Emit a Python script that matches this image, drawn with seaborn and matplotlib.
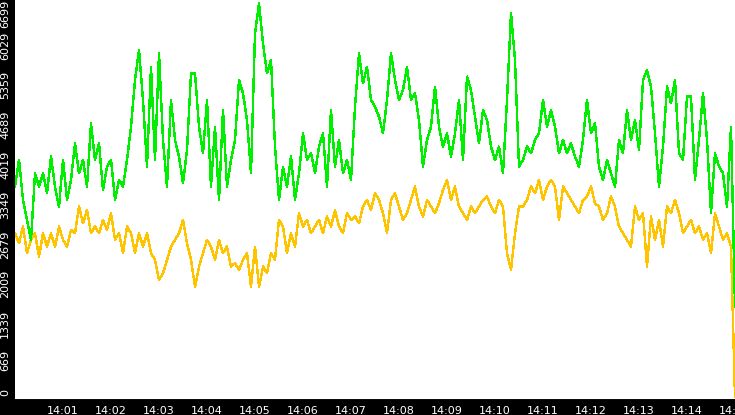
import pandas as pd
import matplotlib
matplotlib.use("Agg")
import matplotlib.pyplot as plt
import matplotlib.dates as mdates
import matplotlib.transforms as mtransforms
import seaborn as sns

# one sample every 5 seconds, 14:00:00 .. 14:15:00
green_vals = [
    3556, 4005, 3331, 2994, 2658, 3780, 3556, 3780, 3443, 4061, 3556, 3219, 4005, 3331, 3668,
    4285, 3780, 4005, 3556, 4622, 4005, 4285, 3500, 3892, 4005, 3331, 3668, 3556, 4005, 4566,
    5352, 5857, 5015, 3892, 5576, 4005, 5801, 4342, 3556, 5015, 4342, 4061, 3612, 4173, 5464,
    5464, 4566, 4117, 5015, 3556, 4566, 3331, 4847, 3556, 4005, 4342, 5352, 5127, 4678, 3780,
    6138, 6643, 5969, 5464, 5689, 4229, 3331, 3892, 3556, 4061, 3331, 3780, 4454, 4005, 4117,
    3780, 4229, 4454, 3556, 4847, 3892, 4342, 3780, 4005, 3668, 4903, 5801, 5296, 5576, 5015,
    4903, 4734, 4454, 5015, 5801, 5352, 5015, 5183, 5576, 5015, 5127, 4678, 3892, 4342, 4566,
    5240, 4566, 4229, 4454, 4061, 4454, 5015, 4005, 5408, 5183, 4734, 4285, 4847, 4678, 4229,
    4005, 4229, 3780, 5015, 6474, 5689, 3892, 4005, 4229, 4117, 4342, 4454, 5015, 4566, 4847,
    4566, 4117, 4342, 4117, 4285, 4061, 3892, 4342, 5015, 4454, 4622, 3892, 3668, 4005, 3780,
    3556, 4342, 4117, 4847, 4342, 4678, 4173, 5352, 5520, 5240, 4454, 3556, 4229, 5240, 4959,
    5352, 4117, 4005, 5071, 5071, 3668, 4342, 5127, 4342, 3107, 4117, 3892, 3780, 3219, 4566,
    1529,
]
yellow_vals = [
    2770, 2602, 2882, 2433, 2658, 2770, 2377, 2770, 2545, 2770, 2545, 2882, 2658, 2545, 2826,
    2770, 3219, 2938, 3163, 2770, 2882, 2770, 2994, 2826, 3107, 2658, 2770, 2433, 2882, 2770,
    2433, 2770, 2545, 2770, 2433, 2321, 1984, 2096, 2321, 2545, 2658, 2770, 2994, 2602, 2321,
    1872, 2209, 2433, 2658, 2545, 2321, 2658, 2433, 2545, 2209, 2265, 2152, 2321, 2433, 1872,
    2545, 1872, 2209, 2096, 2433, 2321, 2994, 2882, 2433, 2770, 2545, 3107, 2882, 2994, 2770,
    2882, 2994, 2770, 3051, 2882, 3163, 2882, 2770, 3107, 2994, 3051, 2938, 3219, 3331, 3163,
    3443, 3331, 3107, 2770, 3331, 3443, 3219, 2994, 3107, 3331, 3556, 3219, 3051, 3331, 3219,
    3107, 3275, 3500, 3668, 3331, 3556, 3219, 3107, 2994, 3219, 3107, 3219, 3331, 3387, 3219,
    3107, 3331, 3219, 2433, 2152, 2770, 3219, 3219, 3331, 3556, 3443, 3668, 3331, 3556, 3668,
    3556, 2994, 3556, 3443, 3331, 3219, 3107, 3331, 3387, 3556, 3275, 3219, 2994, 3107, 3387,
    3219, 2882, 2770, 2658, 2545, 3219, 2994, 3107, 2209, 3051, 2658, 2994, 2545, 3219, 3107,
    3331, 3107, 2770, 2882, 2994, 2770, 2882, 2658, 2770, 2433, 3107, 2882, 2658, 2770, 2545,
    0,
]
y_ticks = [0, 669.9, 1339.8, 2009.7, 2679.6, 3349.5, 4019.4, 4689.3, 5359.2, 6029.1, 6699]
y_labels = ["0", "669", "1339", "2009", "2679", "3349", "4019", "4689", "5359", "6029", "6699"]
x_labels = ["14:01", "14:02", "14:03", "14:04", "14:05", "14:06", "14:07", "14:08",
            "14:09", "14:10", "14:11", "14:12", "14:13", "14:14", "14:15"]

times = pd.date_range("2024-01-01 14:00:00", periods=len(green_vals), freq="5s")
df = pd.DataFrame({"time": times, "green": green_vals, "yellow": yellow_vals})

sns.set_style("white")
plt.rcParams["font.family"] = ["DejaVu Sans"]

fig = plt.figure(figsize=(7.35, 4.15), dpi=100, facecolor="black")
ax = fig.add_axes([15 / 735, 17.3 / 415, 720 / 735, 397.7 / 415])
ax.set_facecolor("white")

sns.lineplot(data=df, x="time", y="yellow", color="#ffc400", lw=1.0, ax=ax,
             errorbar=None, antialiased=False)
sns.lineplot(data=df, x="time", y="green", color="#00ee00", lw=1.0, ax=ax,
             errorbar=None, antialiased=False)

ax.set_xlim(times[0], times[-1])
ax.set_ylim(0, 6699)
ax.set_xlabel("")
ax.set_ylabel("")

xt = pd.to_datetime(["2024-01-01 " + s for s in x_labels])
ax.set_xticks(xt)
ax.xaxis.set_major_formatter(mdates.DateFormatter("%H:%M"))
ax.set_yticks(y_ticks, y_labels)

for s in ax.spines.values():
    s.set_visible(False)
ax.spines["bottom"].set_visible(True)
ax.spines["bottom"].set_color("white")

ax.tick_params(axis="both", colors="white", labelsize=8, direction="out")
ax.tick_params(axis="x", length=4, pad=2)
ax.tick_params(axis="y", length=2.5, pad=1)

offset = mtransforms.ScaledTranslation(0, 6 / 72, fig.dpi_scale_trans)
labels = ax.get_yticklabels()
for i, lbl in enumerate(labels):
    lbl.set_rotation(90)
    lbl.set_va("top")
    if i < len(labels) - 1:
        lbl.set_transform(lbl.get_transform() + offset)

fig.savefig("out.png", dpi=100, facecolor="black")
